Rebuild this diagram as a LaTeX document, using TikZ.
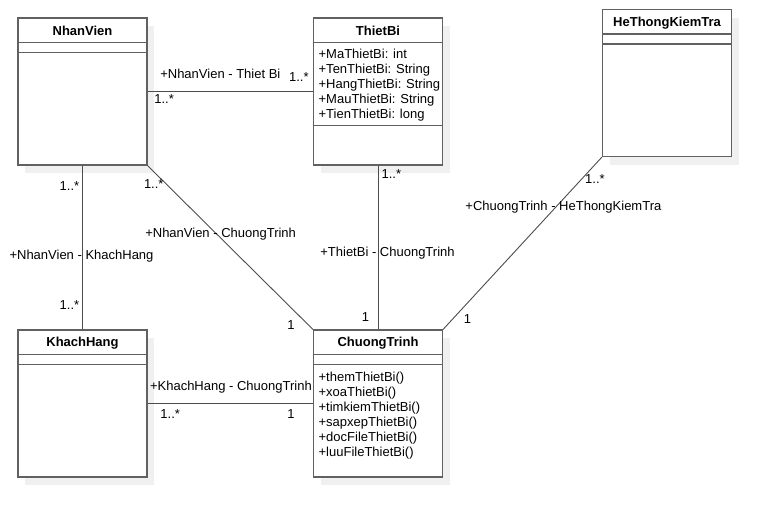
\documentclass[tikz,border=0pt]{standalone}
\usepackage{fontspec}
\setmainfont{Liberation Sans}
\usetikzlibrary{shadows}

\tikzset{
  classbox/.style={draw=black!62, line width=1.1pt, fill=white, inner sep=0pt,
    minimum width=129pt, minimum height=147pt,
    drop shadow={shadow xshift=7pt, shadow yshift=-8pt, fill=black!6, opacity=1}},
  classline/.style={draw=black!62, line width=1.1pt},
  assoc/.style={draw=black!70, line width=0.9pt},
  lbl/.style={inner sep=0pt, font=\fontsize{13}{15}\selectfont},
  classname/.style={inner sep=0pt, font=\fontsize{13}{15}\selectfont\bfseries},
  members/.style={lbl, anchor=north west, align=left}
}

\begin{document}
\begin{tikzpicture}[x=1pt, y=-1pt]
\useasboundingbox (0,0) rectangle (771,517);

\path (82.5, 91.5) node[classbox] (nv) {}
      (378, 91.5) node[classbox] (tb) {}
      (667, 83) node[classbox] (ht) {}
      (82.5, 403.5) node[classbox] (kh) {}
      (378, 403.5) node[classbox] (ct) {};

% header and compartment lines
\foreach \c in {nv, tb, ht, kh, ct}
  \draw[classline] ([yshift=-25pt]\c.north west) -- ([yshift=-25pt]\c.north east);
\foreach \c in {nv, ht, kh, ct}
  \draw[classline] ([yshift=-35pt]\c.north west) -- ([yshift=-35pt]\c.north east);
\draw[classline] ([yshift=-108pt]tb.north west) -- ([yshift=-108pt]tb.north east);

% class names
\node[classname] (nvname) at ([yshift=-13.7pt]nv.north) {NhanVien};
\node[classname] (tbname) at ([yshift=-13.7pt]tb.north) {ThietBi};
\node[classname] (htname) at ([yshift=-14.5pt]ht.north) {HeThongKiemTra};
\node[classname] (khname) at ([yshift=-13.7pt]kh.north) {KhachHang};
\node[classname] (ctname) at ([yshift=-13.7pt]ct.north) {ChuongTrinh};

% members
\node[members] (tbattr) at ([xshift=5.5pt, yshift=-31pt]tb.north west)
  {+MaThietBi: int\\+TenThietBi: String\\+HangThietBi: String\\+MauThietBi: String\\+TienThietBi: long};
\node[members] (ctops) at ([xshift=5.5pt, yshift=-42.5pt]ct.north west)
  {+themThietBi()\\+xoaThietBi()\\+timkiemThietBi()\\+sapxepThietBi()\\+docFileThietBi()\\+luuFileThietBi()};

% associations
\draw[assoc] (nv.east) --
  node[lbl, pos=0.44, yshift=17.5pt] {+NhanVien - Thiet Bi}
  node[lbl, pos=0.1, yshift=-8pt] {1..*}
  node[lbl, pos=0.915, yshift=14.5pt] {1..*} (tb.west);
\draw[assoc] (nv.south) --
  node[lbl, pos=0.55, xshift=-1pt] {+NhanVien - KhachHang}
  node[lbl, pos=0.125, xshift=-13pt] {1..*}
  node[lbl, pos=0.853, xshift=-13pt] {1..*} (kh.north);
\draw[assoc] (nv.south east) --
  node[lbl, pos=0.42, xshift=3.6pt] {+NhanVien - ChuongTrinh}
  node[lbl, pos=0.115, xshift=-12.8pt] {1..*}
  node[lbl, pos=0.97, xshift=-17pt] {1} (ct.north west);
\draw[assoc] (tb.south) --
  node[lbl, pos=0.535, xshift=9.5pt] {+ThietBi - ChuongTrinh}
  node[lbl, pos=0.05, xshift=13.3pt] {1..*}
  node[lbl, pos=0.927, xshift=-12.5pt] {1} (ct.north);
\draw[assoc] (ht.south west) --
  node[lbl, pos=0.293, xshift=8pt] {+ChuongTrinh - HeThongKiemTra}
  node[lbl, pos=0.129, xshift=13.5pt] {1..*}
  node[lbl, pos=0.942, xshift=15.3pt] {1} (ct.north east);
\draw[assoc] (kh.east) --
  node[lbl, pos=0.504, yshift=16pt] {+KhachHang - ChuongTrinh}
  node[lbl, pos=0.137, yshift=-11pt] {1..*}
  node[lbl, pos=0.867, yshift=-11pt] {1} (ct.west);
\end{tikzpicture}
\end{document}
